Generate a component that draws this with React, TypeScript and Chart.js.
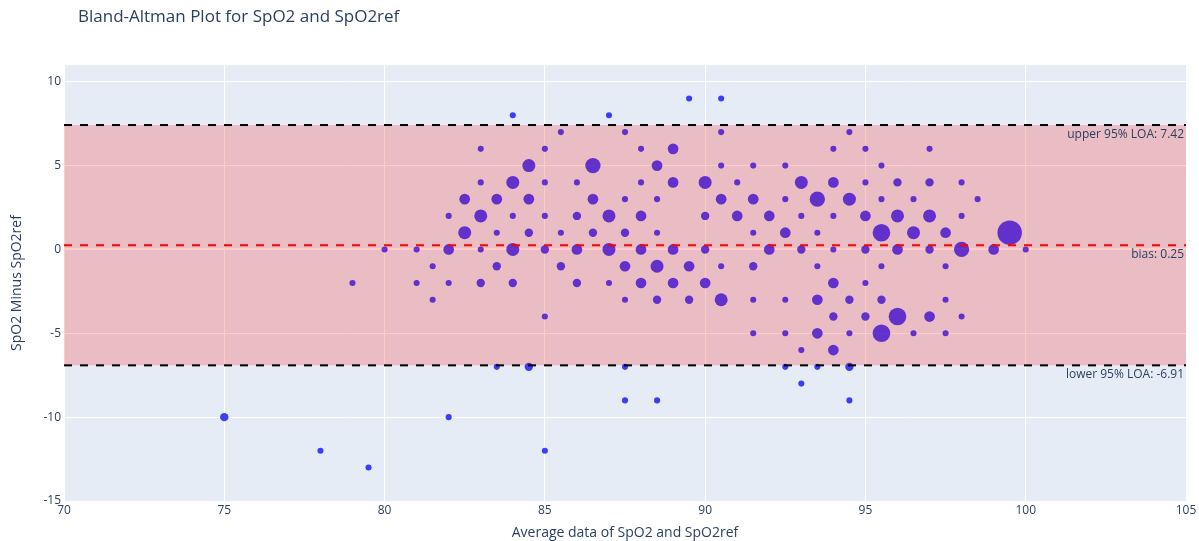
import React, { useEffect, useRef } from "react";
import { Chart, registerables } from "chart.js";

Chart.register(...registerables);

const titleText = "Bland-Altman Plot for SpO2 and SpO2ref";
const xTitleText = "Average data of SpO2 and SpO2ref";
const yTitleText = "SpO2 Minus SpO2ref";

const xTicks = [70, 75, 80, 85, 90, 95, 100, 105];
const yTicks = [-15, -10, -5, 0, 5, 10];

const biasValue = 0.25;
const upperLoa = 7.42;
const lowerLoa = -6.91;

// Average of SpO2 and SpO2ref (x), difference (y), number of coinciding observations
const avgValues = [
  89.5, 90.5,
  84, 87,
  85.5, 87.5, 90.5, 94.5,
  83, 85, 88, 89, 94, 95, 97,
  84.5, 86.5, 88.5, 90.5, 91.5, 92.5, 95.5,
  83, 84, 85, 86, 88, 89, 90, 91, 93, 94, 95, 96, 97, 98,
  82.5, 83.5, 84.5, 86.5, 87.5, 88.5, 90.5, 91.5, 92.5, 93.5, 94.5, 95.5, 96.5, 98.5,
  82, 83, 84, 85, 86, 87, 88, 90, 91, 92, 93, 94, 95, 96, 97, 98,
  82.5, 83.5, 84.5, 85.5, 86.5, 87.5, 88.5, 91.5, 92.5, 93.5, 95.5, 96.5, 97.5, 99.5,
  80, 81, 82, 83, 84, 85, 86, 87, 88, 89, 90, 92, 93, 94, 95, 96, 97, 98, 99, 100,
  81.5, 83.5, 85.5, 87.5, 88.5, 89.5, 90.5, 91.5, 93.5, 95.5, 97.5,
  79, 81, 82, 83, 84, 86, 87, 88, 89, 90, 94, 95,
  81.5, 87.5, 88.5, 89.5, 90.5, 91.5, 92.5, 93.5, 94.5, 95.5, 97.5,
  85, 94, 95, 96, 97, 98,
  91.5, 92.5, 93.5, 94.5, 95.5, 96.5, 97.5,
  93, 94,
  83.5, 84.5, 87.5, 92.5, 93.5, 94.5,
  93,
  87.5, 88.5, 94.5,
  75, 82,
  78, 85,
  79.5,
];

const diffValues = [
  9, 9,
  8, 8,
  7, 7, 7, 7,
  6, 6, 6, 6, 6, 6, 6,
  5, 5, 5, 5, 5, 5, 5,
  4, 4, 4, 4, 4, 4, 4, 4, 4, 4, 4, 4, 4, 4,
  3, 3, 3, 3, 3, 3, 3, 3, 3, 3, 3, 3, 3, 3,
  2, 2, 2, 2, 2, 2, 2, 2, 2, 2, 2, 2, 2, 2, 2, 2,
  1, 1, 1, 1, 1, 1, 1, 1, 1, 1, 1, 1, 1, 1,
  0, 0, 0, 0, 0, 0, 0, 0, 0, 0, 0, 0, 0, 0, 0, 0, 0, 0, 0, 0,
  -1, -1, -1, -1, -1, -1, -1, -1, -1, -1, -1,
  -2, -2, -2, -2, -2, -2, -2, -2, -2, -2, -2, -2,
  -3, -3, -3, -3, -3, -3, -3, -3, -3, -3, -3,
  -4, -4, -4, -4, -4, -4,
  -5, -5, -5, -5, -5, -5, -5,
  -6, -6,
  -7, -7, -7, -7, -7, -7,
  -8,
  -9, -9, -9,
  -10, -10,
  -12, -12,
  -13,
];

const countValues = [
  1, 1,
  1, 1,
  1, 1, 1, 1,
  1, 1, 1, 3, 1, 1, 1,
  4, 5, 3, 1, 1, 1, 1,
  1, 4, 1, 1, 1, 3, 4, 1, 4, 3, 1, 2, 2, 1,
  3, 3, 3, 3, 1, 1, 3, 3, 1, 5, 4, 1, 1, 1,
  1, 4, 1, 1, 2, 4, 3, 2, 3, 3, 1, 1, 3, 4, 4, 1,
  4, 1, 2, 1, 2, 2, 1, 1, 3, 1, 6, 4, 3, 9,
  1, 1, 3, 1, 4, 2, 3, 4, 3, 3, 2, 3, 2, 1, 2, 3, 2, 5, 3, 1,
  1, 2, 2, 3, 4, 3, 1, 2, 1, 1, 1,
  1, 1, 1, 2, 2, 2, 1, 3, 3, 3, 3, 1,
  1, 1, 2, 2, 4, 1, 1, 3, 2, 2, 1,
  1, 2, 2, 6, 3, 1,
  1, 1, 3, 1, 6, 1, 1,
  1, 3,
  1, 2, 1, 1, 1, 2,
  1,
  1, 1, 1,
  2, 1,
  1, 1,
  1,
];

const FONT = "'Open Sans', 'Liberation Sans', sans-serif";
const TEXT_COLOR = "#2a3f5f";

const plotBgPlugin = {
  id: "plotBg",
  beforeDraw(chart: any) {
    const { ctx, chartArea: a } = chart;
    ctx.save();
    ctx.fillStyle = "#ffffff";
    ctx.fillRect(0, 0, chart.width, chart.height);
    ctx.fillStyle = "#E5ECF6";
    ctx.fillRect(a.left, a.top, a.right - a.left, a.bottom - a.top);
    ctx.restore();
  },
};

const loaPlugin = {
  id: "loaOverlay",
  afterDatasetsDraw(chart: any) {
    const { ctx, chartArea: a, scales } = chart;
    const ys = scales.y;
    const yu = ys.getPixelForValue(upperLoa);
    const yl = ys.getPixelForValue(lowerLoa);
    const yb = ys.getPixelForValue(biasValue);
    ctx.save();
    ctx.beginPath();
    ctx.rect(a.left, a.top, a.right - a.left, a.bottom - a.top);
    ctx.clip();
    ctx.fillStyle = "rgba(255,0,0,0.2)";
    ctx.fillRect(a.left, yu, a.right - a.left, yl - yu);

    ctx.lineWidth = 2;
    ctx.setLineDash([8, 8]);
    const hline = (py: number, color: string) => {
      ctx.strokeStyle = color;
      ctx.beginPath();
      ctx.moveTo(a.left, py);
      ctx.lineTo(a.right, py);
      ctx.stroke();
    };
    hline(yu, "#000000");
    hline(yl, "#000000");
    hline(yb, "#ff0000");
    ctx.setLineDash([]);

    ctx.fillStyle = TEXT_COLOR;
    ctx.font = `12px ${FONT}`;
    ctx.textAlign = "right";
    ctx.textBaseline = "alphabetic";
    const tx = a.right - 2;
    ctx.fillText(`upper 95% LOA: ${upperLoa.toFixed(2)}`, tx, yu + 12.5);
    ctx.fillText(`bias: ${biasValue.toFixed(2)}`, tx, yb + 12.5);
    ctx.fillText(`lower 95% LOA: ${lowerLoa.toFixed(2)}`, tx, yl + 12.5);
    ctx.restore();
  },
  afterDraw(chart: any) {
    const { ctx, chartArea: a } = chart;
    ctx.save();
    ctx.fillStyle = TEXT_COLOR;
    ctx.textBaseline = "alphabetic";
    ctx.font = `17px ${FONT}`;
    ctx.textAlign = "left";
    ctx.fillText(titleText, 78, 22);

    ctx.font = `14px ${FONT}`;
    ctx.textAlign = "center";
    ctx.fillText(xTitleText, (a.left + a.right) / 2, 537);

    ctx.translate(21, (a.top + a.bottom) / 2);
    ctx.rotate(-Math.PI / 2);
    ctx.fillText(yTitleText, 0, 0);
    ctx.restore();
  },
};

export default function App() {
  const canvasRef = useRef<HTMLCanvasElement | null>(null);

  useEffect(() => {
    const canvas = canvasRef.current;
    if (!canvas) return;
    const points = avgValues.map((x, i) => ({
      x,
      y: diffValues[i],
      r: 1.9 + 1.15 * countValues[i],
    }));

    const chart = new Chart(canvas, {
      type: "bubble",
      data: {
        datasets: [
          {
            label: "SpO2 vs SpO2ref",
            data: points,
            backgroundColor: "rgba(0,0,255,0.74)",
            borderWidth: 0,
            hoverBorderWidth: 0,
          },
        ],
      },
      options: {
        responsive: false,
        animation: false,
        events: [],
        layout: { padding: { top: 65, right: 13, left: 0, bottom: 0 } },
        plugins: {
          legend: { display: false },
          title: { display: false },
          tooltip: { enabled: false },
        },
        scales: {
          x: {
            type: "linear",
            min: 70,
            max: 105,
            border: { display: false },
            grid: { color: "#ffffff", lineWidth: 1, drawTicks: false },
            ticks: {
              color: TEXT_COLOR,
              font: { family: FONT, size: 12 },
              padding: 2,
              maxRotation: 0,
            },
            afterBuildTicks: (scale: any) => {
              scale.ticks = xTicks.map((v) => ({ value: v }));
            },
            afterFit: (scale: any) => {
              scale.height = 40;
            },
          },
          y: {
            type: "linear",
            min: -15,
            max: 11,
            border: { display: false },
            grid: {
              color: "#ffffff",
              lineWidth: (c: any) => (c.tick && c.tick.value === 0 ? 2 : 1),
              drawTicks: false,
            },
            ticks: {
              color: TEXT_COLOR,
              font: { family: FONT, size: 12 },
              padding: 3,
            },
            afterBuildTicks: (scale: any) => {
              scale.ticks = yTicks.map((v) => ({ value: v }));
            },
            afterFit: (scale: any) => {
              scale.width = 64;
            },
          },
        },
      },
      plugins: [plotBgPlugin, loaPlugin],
    });
    return () => chart.destroy();
  }, []);

  return (
    <div style={{ position: "fixed", left: 0, top: 0, width: 1199, height: 541, background: "#fff" }}>
      <canvas ref={canvasRef} width={1199} height={541} style={{ display: "block" }} />
    </div>
  );
}
